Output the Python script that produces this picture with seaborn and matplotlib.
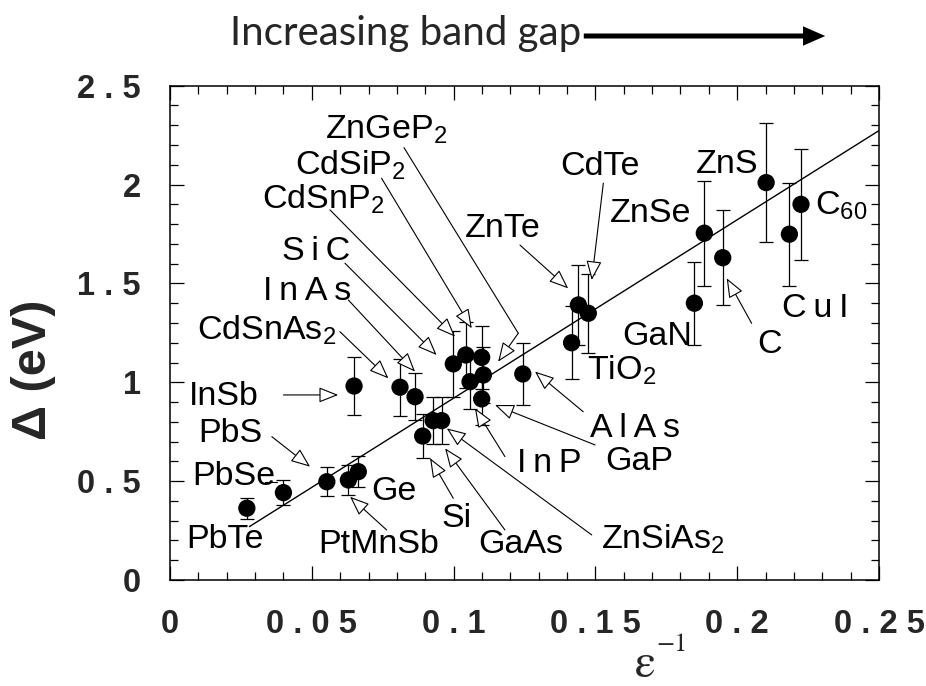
import matplotlib
matplotlib.use("Agg")
import matplotlib.pyplot as plt
import seaborn as sns
import pandas as pd
from matplotlib.patches import FancyArrowPatch, ArrowStyle
from matplotlib.ticker import MultipleLocator

# ---------------- data ----------------
materials = ["PbTe", "PbSe", "PbS", "PtMnSb", "Ge", "InSb", "CdSnAs2", "InAs", "Si",
             "GaAs", "ZnSiAs2", "SiC", "CdSnP2", "CdSiP2", "InP", "ZnGeP2", "GaP",
             "AlAs", "ZnTe", "CdTe", "TiO2", "GaN", "ZnSe", "C", "ZnS", "CuI", "C60"]
inv_eps = [0.0271, 0.0400, 0.0553, 0.0629, 0.0664, 0.0649, 0.0811, 0.0864, 0.0891,
           0.0928, 0.0958, 0.0999, 0.1043, 0.1099, 0.1058, 0.1105, 0.1099,
           0.1244, 0.1440, 0.1475, 0.1416, 0.1849, 0.1884, 0.1949, 0.2102, 0.2184, 0.2225]
gap = [0.363, 0.442, 0.497, 0.506, 0.548, 0.981, 0.975, 0.927, 0.728,
       0.806, 0.806, 1.093, 1.138, 1.126, 1.003, 1.037, 0.916,
       1.042, 1.391, 1.349, 1.200, 1.400, 1.754, 1.630, 2.010, 1.749, 1.900]
gap_err = [0.053, 0.063, 0.074, 0.076, 0.080, 0.148, 0.145, 0.12, 0.11,
           0.12, 0.12, 0.165, 0.165, 0.16, 0.14, 0.14, 0.13,
           0.155, 0.20, 0.20, 0.185, 0.21, 0.265, 0.24, 0.30, 0.26, 0.28]

fit_x = [0.028, 0.25]
fit_y = [0.27, 2.273]

x_ticks = [0, 0.05, 0.1, 0.15, 0.2, 0.25]
x_tick_labels = ["0", "0 . 0 5", "0 . 1", "0 . 1 5", "0 . 2", "0 . 2 5"]
y_ticks = [0, 0.5, 1, 1.5, 2, 2.5]
y_tick_labels = ["0", "0 . 5", "1", "1 . 5", "2", "2 . 5"]

TS = "\u2009"  # thin space
display_names = ["PbTe", "PbSe", "PbS", "PtMnSb", "Ge", "InSb", "CdSnAs$_2$",
                 TS.join("InAs"), "Si", "GaAs", "ZnSiAs$_2$", TS.join("SiC"),
                 "CdSnP$_2$", "CdSiP$_2$", TS.join("InP"), "ZnGeP$_2$", "GaP",
                 TS.join("AlAs"), "ZnTe", "CdTe", "TiO$_2$", "GaN", "ZnSe", "C",
                 "ZnS", TS.join("CuI"), "C$_{60}$"]
# label anchor (left, baseline) in data units
label_x = [0.0059, 0.0077, 0.0100, 0.0523, 0.0711, 0.0065, 0.0094, 0.0329, 0.0958,
           0.1087, 0.1521, 0.0394, 0.0323, 0.0441, 0.1222, 0.0547, 0.1534,
           0.1481, 0.1040, 0.1375, 0.1469, 0.1593, 0.1551, 0.2069, 0.1855, 0.2157, 0.2274]
label_y = [0.160, 0.480, 0.700, 0.135, 0.405, 0.885, 1.214, 1.416, 0.270,
           0.135, 0.160, 1.619, 1.880, 2.050, 0.548, 2.234, 0.556,
           0.725, 1.736, 2.049, 1.012, 1.189, 1.812, 1.147, 2.057, 1.332, 1.846]

# arrows: (tail, tip)
arrow_tail = [(0.1228, 1.248), (0.0746, 2.032), (0.0564, 1.872), (0.0617, 1.602),
              (0.0629, 1.416), (0.0599, 1.256), (0.0400, 0.936), (0.0359, 0.725),
              (0.0764, 0.253), (0.0999, 0.413), (0.1181, 0.253), (0.1487, 0.228),
              (0.1181, 0.624), (0.1499, 0.683), (0.1457, 0.851), (0.1234, 1.694),
              (0.1528, 2.007), (0.2051, 1.298)]
arrow_tip = [(0.1157, 1.104), (0.1064, 1.273), (0.1005, 1.231), (0.0940, 1.138),
             (0.0864, 1.054), (0.0770, 1.020), (0.0593, 0.936), (0.0494, 0.573),
             (0.0635, 0.421), (0.0917, 0.616), (0.0970, 0.666), (0.0976, 0.767),
             (0.1075, 0.869), (0.1146, 0.885), (0.1287, 1.054), (0.1404, 1.475),
             (0.1487, 1.517), (0.1963, 1.526)]
leader_start = [(0.0825, 2.187), (0.0335, 0.497)]
leader_end = [(0.1228, 1.248), (0.0377, 0.497)]

# ---------------- style ----------------
sns.set_theme(style="ticks")
plt.rcParams["font.family"] = ["Liberation Sans", "DejaVu Sans"]
plt.rcParams["mathtext.fontset"] = "custom"
plt.rcParams["mathtext.rm"] = "Liberation Sans"
plt.rcParams["mathtext.it"] = "Liberation Sans:italic"
plt.rcParams["mathtext.bf"] = "Liberation Sans:bold"

fig = plt.figure(figsize=(9.26, 6.86), dpi=100)
ax = fig.add_axes([170 / 926, 1 - 580 / 686, 709 / 926, 494.3 / 686])

df = pd.DataFrame({"material": materials, "inv_eps": inv_eps, "gap": gap, "err": gap_err})

ax.errorbar(df["inv_eps"], df["gap"], yerr=df["err"], fmt="none", ecolor="black",
            elinewidth=0.9, capsize=5, capthick=0.9, zorder=2)
sns.lineplot(x=fit_x, y=fit_y, color="black", lw=1.0, ax=ax, zorder=1)
sns.scatterplot(data=df, x="inv_eps", y="gap", color="black", s=155,
                edgecolor="none", ax=ax, zorder=3, legend=False)

for name, lx, ly in zip(display_names, label_x, label_y):
    ax.text(lx, ly, name, fontsize=24.5, ha="left", va="baseline", color="black", zorder=4)

head = ArrowStyle("-|>", head_length=0.75, head_width=0.3)
for (tx, ty), (hx, hy) in zip(arrow_tail, arrow_tip):
    ax.add_patch(FancyArrowPatch((tx, ty), (hx, hy), arrowstyle=head, mutation_scale=16,
                                 fc="white", ec="black", lw=0.8, shrinkA=0, shrinkB=0,
                                 zorder=4))
for (sx, sy), (ex, ey) in zip(leader_start, leader_end):
    ax.plot([sx, ex], [sy, ey], color="black", lw=0.8, zorder=4)

ax.set_xlim(0, 0.25)
ax.set_ylim(0, 2.5)
ax.set_xticks(x_ticks)
ax.set_xticklabels(x_tick_labels)
ax.set_yticks(y_ticks)
ax.set_yticklabels(y_tick_labels)
ax.xaxis.set_minor_locator(MultipleLocator(0.01))
ax.yaxis.set_minor_locator(MultipleLocator(0.1))
ax.tick_params(which="both", direction="in", top=True, right=True, width=0.9, color="black")
ax.tick_params(which="major", length=10)
ax.tick_params(which="minor", length=5.5)
ax.tick_params(axis="x", which="major", pad=21)
ax.tick_params(axis="y", which="major", pad=21)
for lab in ax.get_xticklabels() + ax.get_yticklabels():
    lab.set_fontweight("bold")
    lab.set_fontsize(23.5)
for sp in ax.spines.values():
    sp.set_linewidth(1.1)
    sp.set_color("black")
ax.set_xlabel("")
ax.set_ylabel("")

ax.text(-0.192, 0.425, "Δ (eV)", transform=ax.transAxes, rotation=90, ha="center",
        va="center", fontsize=35, fontweight="bold")
# x-axis label: epsilon with superscript -1, below the 0.15-0.2 gap
ax.text((645 - 170) / 709, -(666 - 580) / 494.3, "ε", transform=ax.transAxes,
        ha="center", va="center", fontsize=34, family=["STIXGeneral", "DejaVu Serif"])
ax.text((672 - 170) / 709, -(645 - 580) / 494.3, "−1", transform=ax.transAxes,
        ha="center", va="center", fontsize=19, family=["STIXGeneral", "DejaVu Serif"])

fig.text(230 / 926, 1 - 45 / 686, "Increasing band gap", fontsize=29,
         family=["Lato", "DejaVu Sans"], ha="left", va="baseline")
fig.add_artist(FancyArrowPatch((581 / 926, 1 - 36 / 686), (828 / 926, 1 - 36 / 686),
                               transform=fig.transFigure,
                               arrowstyle=ArrowStyle("simple", head_length=0.8,
                                                     head_width=0.7, tail_width=0.18),
                               mutation_scale=20, fc="black", ec="black", lw=0))

fig.savefig("out.png", dpi=100)
